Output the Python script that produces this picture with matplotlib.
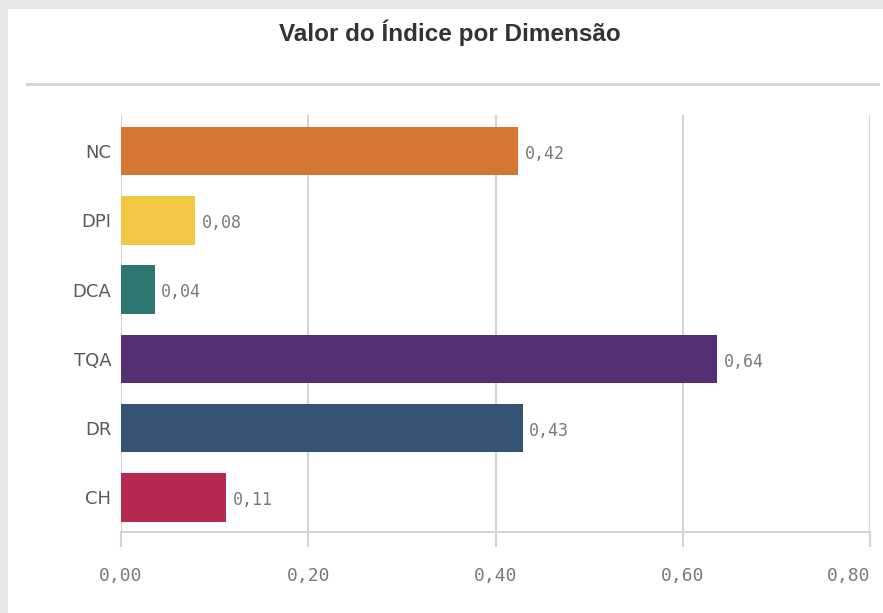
import matplotlib.pyplot as plt
from matplotlib.patches import Rectangle
from matplotlib.lines import Line2D

# data
dimensions = ['NC', 'DPI', 'DCA', 'TQA', 'DR', 'CH']
values = [0.424, 0.079, 0.036, 0.637, 0.429, 0.112]
colors = ['#d67635', '#f2c744', '#2e7670', '#542f73', '#355475', '#b6294f']
xticks = [0.0, 0.2, 0.4, 0.6, 0.8]

W, H = 883, 613
fig = plt.figure(figsize=(W / 100, H / 100), dpi=100, facecolor='#e8e8e8')

# white panel inside the light grey frame
fig.patches.append(Rectangle((8 / W, 0), 1 - 8 / W, 1 - 9 / H, transform=fig.transFigure,
                             facecolor='white', edgecolor='none', zorder=-5))

fig.text(450 / W, 1 - 33 / H, 'Valor do Índice por Dimensão', ha='center', va='center',
         fontsize=17.5, fontweight='bold', color='#333333',
         family=['Liberation Sans', 'DejaVu Sans'])
fig.lines.append(Line2D([27 / W, 878 / W], [1 - 84 / H, 1 - 84 / H], transform=fig.transFigure,
                        color='#d4d4d4', lw=2, zorder=-4))

ax = fig.add_axes([121 / W, 1 - 532 / H, (870 - 121) / W, (532 - 115) / H])
ax.set_facecolor('none')

ypos = list(range(len(dimensions)))
ax.barh(ypos, values, height=0.7, color=colors, zorder=3)
for y, v in zip(ypos, values):
    ax.text(v + 0.007, y + 0.04, f'{v:.2f}'.replace('.', ','), va='center', ha='left',
            fontsize=12, color='#7a7a7a', family='DejaVu Sans Mono')

ax.set_xlim(0, 0.8)
ax.set_ylim(5.5, -0.52)
ax.set_yticks(ypos)
ax.set_yticklabels(dimensions, fontsize=13, color='#595959')
ax.set_xticks(xticks)
ax.set_xticklabels([f'{t:.2f}'.replace('.', ',') for t in xticks], fontsize=13,
                   color='#7a7a7a', family='DejaVu Sans Mono')
ax.get_xticklabels()[-1].set_horizontalalignment('right')

ax.grid(axis='x', color='#d4d4d4', lw=1.5, zorder=0)
ax.tick_params(axis='x', length=11, width=1.5, color='#d4d4d4', pad=14)
ax.tick_params(axis='y', length=0, pad=7)
for s in ['top', 'right', 'left']:
    ax.spines[s].set_visible(False)
ax.spines['bottom'].set_color('#d4d4d4')
ax.spines['bottom'].set_linewidth(1.5)

fig.savefig('out.png', dpi=100, facecolor=fig.get_facecolor())
